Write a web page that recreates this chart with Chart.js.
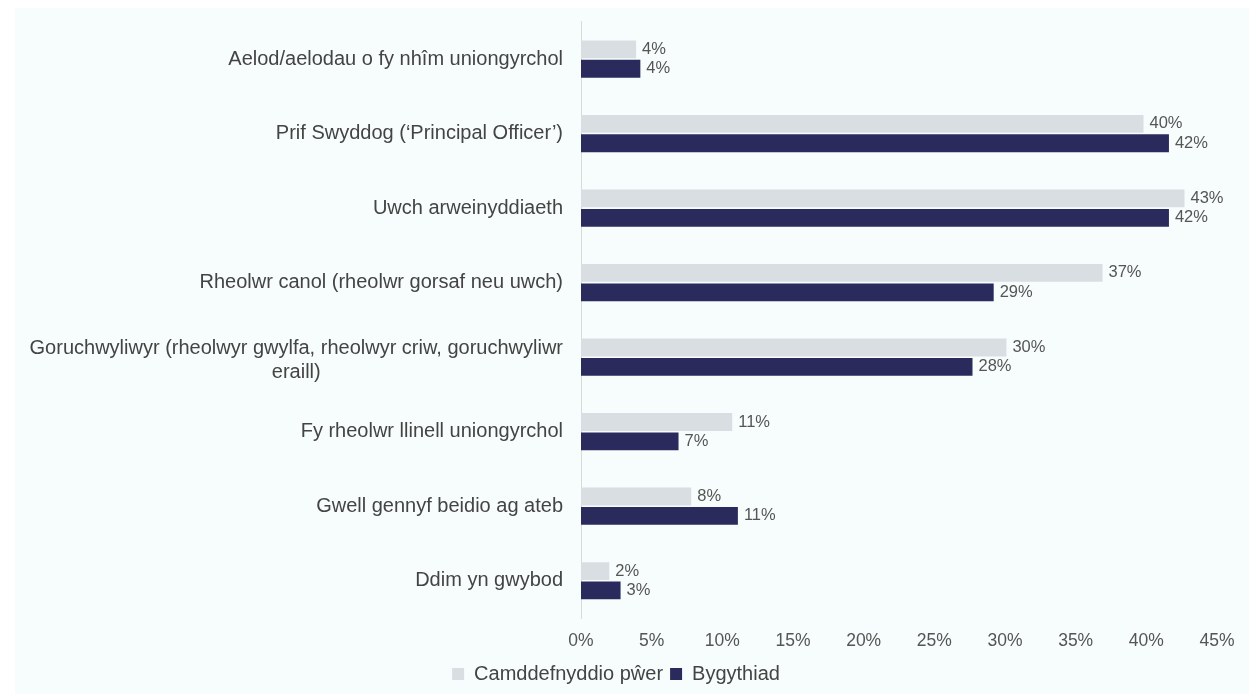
<!DOCTYPE html>
<html>
<head>
<meta charset="utf-8">
<script src="https://cdn.jsdelivr.net/npm/chart.js@4"></script>
<style>
    html, body { margin: 0; padding: 0; background: #ffffff; }
    #panel {
        position: absolute;
        left: 15px;
        top: 8px;
        width: 1234px;
        height: 686px;
        background: #f7fdfc;
    }
</style>
</head>
<body>
<div id="panel"><canvas id="chart" width="1234" height="686"></canvas></div>
<script>
const categories = [
    'Aelod/aelodau o fy nhîm uniongyrchol',
    'Prif Swyddog (‘Principal Officer’)',
    'Uwch arweinyddiaeth',
    'Rheolwr canol (rheolwr gorsaf neu uwch)',
    ['Goruchwyliwyr (rheolwyr gwylfa, rheolwyr criw, goruchwyliwr', 'eraill)'],
    'Fy rheolwr llinell uniongyrchol',
    'Gwell gennyf beidio ag ateb',
    'Ddim yn gwybod'
];
const seriesNames = ['Camddefnyddio pŵer', 'Bygythiad'];
const abuseOfPower = [3.9, 39.8, 42.7, 36.9, 30.1, 10.7, 7.8, 2.0];
const threat = [4.2, 41.6, 41.6, 29.2, 27.7, 6.9, 11.1, 2.8];
const xTicks = [0, 5, 10, 15, 20, 25, 30, 35, 40, 45];

const labelFont = '"Liberation Sans", Arial, sans-serif';

// value labels at the end of each bar
const barLabels = {
    id: 'barLabels',
    afterDatasetsDraw(chart) {
        const ctx = chart.ctx;
        ctx.save();
        ctx.font = '16.5px ' + labelFont;
        ctx.fillStyle = '#555555';
        ctx.textAlign = 'left';
        ctx.textBaseline = 'middle';
        chart.data.datasets.forEach((ds, i) => {
            chart.getDatasetMeta(i).data.forEach((bar, j) => {
                ctx.fillText(Math.round(ds.data[j]) + '%', bar.x + 6, bar.y);
            });
        });
        ctx.restore();
    }
};

// category labels: right aligned, extra lines centred under the first
const categoryLabels = {
    id: 'categoryLabels',
    afterDraw(chart) {
        const ctx = chart.ctx;
        const yScale = chart.scales.y;
        ctx.save();
        ctx.font = '20px ' + labelFont;
        ctx.fillStyle = '#444444';
        ctx.textAlign = 'center';
        ctx.textBaseline = 'middle';
        const right = yScale.right - 18;
        const lineHeight = 24;
        categories.forEach((cat, i) => {
            const lines = Array.isArray(cat) ? cat : [cat];
            const w = Math.max(...lines.map(l => ctx.measureText(l).width));
            const cx = right - w / 2;
            let y0 = yScale.getPixelForValue(i) - (lines.length - 1) * lineHeight / 2;
            if (lines.length > 1) y0 += 3;
            lines.forEach((l, k) => ctx.fillText(l, cx, y0 + k * lineHeight));
        });
        ctx.restore();
    }
};

new Chart(document.getElementById('chart'), {
    type: 'bar',
    data: {
        labels: categories,
        datasets: [
            {
                label: seriesNames[0],
                data: abuseOfPower,
                backgroundColor: '#d9dee3',
                categoryPercentage: 0.52,
                barPercentage: 0.92
            },
            {
                label: seriesNames[1],
                data: threat,
                backgroundColor: '#2b2a5c',
                categoryPercentage: 0.52,
                barPercentage: 0.92
            }
        ]
    },
    options: {
        indexAxis: 'y',
        responsive: false,
        animation: false,
        layout: { padding: { top: 13, right: 32, left: 0, bottom: 0 } },
        plugins: {
            tooltip: { enabled: false },
            legend: {
                position: 'bottom',
                labels: {
                    boxWidth: 12,
                    boxHeight: 12,
                    padding: 7,
                    color: '#444444',
                    font: { size: 20, family: labelFont }
                }
            }
        },
        scales: {
            x: {
                min: 0,
                max: 45,
                afterBuildTicks(scale) {
                    scale.ticks = xTicks.map(v => ({ value: v }));
                },
                grid: { display: false },
                border: { display: false },
                ticks: {
                    color: '#555555',
                    padding: 5,
                    font: { size: 17.5, family: labelFont },
                    callback: v => v + '%'
                }
            },
            y: {
                afterFit(scale) { scale.width = 566; },
                grid: { display: false },
                border: { display: true, color: '#d9d9d9' },
                ticks: { color: 'transparent', font: { size: 18, family: labelFont } }
            }
        }
    },
    plugins: [barLabels, categoryLabels]
});
</script>
</body>
</html>
